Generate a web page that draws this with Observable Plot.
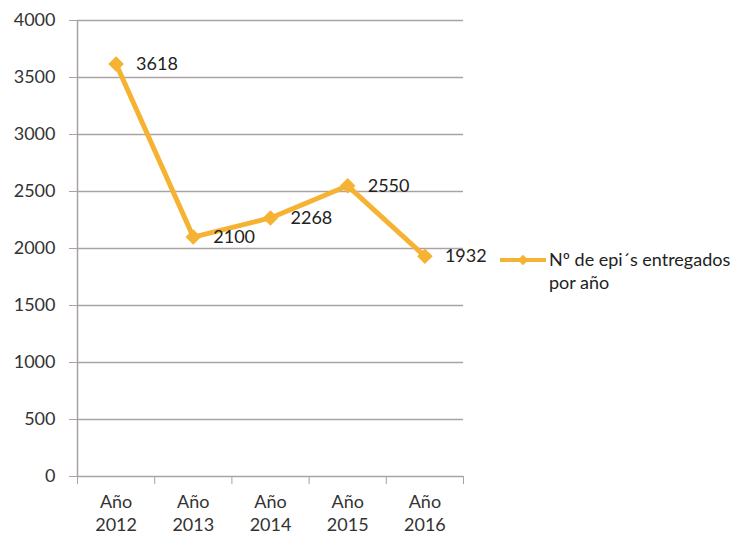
<!DOCTYPE html>
<html>
<head>
<meta charset="utf-8">
<script src="https://cdn.jsdelivr.net/npm/d3@7"></script>
<script src="https://cdn.jsdelivr.net/npm/@observablehq/plot@0.6"></script>
<style>
  html, body { margin: 0; padding: 0; background: #fff; }
  svg { display: block; }
</style>
</head>
<body>
<div id="chart"></div>
<script>
const categories = ["Año 2012", "Año 2013", "Año 2014", "Año 2015", "Año 2016"];
const values = [3618, 2100, 2268, 2550, 1932];
const yTicks = [0, 500, 1000, 1500, 2000, 2500, 3000, 3500, 4000];
const legendLines = ["Nº de epi´s entregados", "por año"];

const color = "#F6B232";
const font = "Lato, 'Open Sans', sans-serif";
const data = categories.map((c, i) => ({cat: c, pos: i + 0.5, value: values[i]}));
const boundaries = d3.range(categories.length + 1);

const chart = Plot.plot({
  width: 754,
  height: 538,
  marginLeft: 77,
  marginRight: 291,
  marginTop: 20,
  marginBottom: 62,
  style: {fontFamily: font, fontSize: "18px", color: "#333", background: "#fff"},
  x: {type: "linear", domain: [0, categories.length]},
  y: {domain: [0, 4000]},
  marks: [
    Plot.gridY(yTicks.filter(d => d > 0), {stroke: "#aaa2a2", strokeOpacity: 1, strokeWidth: 1.3}),
    Plot.axisY({ticks: yTicks, tickSize: 8, tickPadding: 14, tickFormat: d => String(d), stroke: "#aaa2a2", fill: "#333", fontSize: 18, label: null}),
    Plot.axisX({ticks: boundaries, tickSize: 8, tickFormat: () => "", stroke: "#aaa2a2", label: null}),
    Plot.axisX({ticks: data.map(d => d.pos), tickSize: 0, tickPadding: 16, lineHeight: 1.25,
      tickFormat: (d) => categories[Math.floor(d)].replace(" ", "\n"), fill: "#333", fontSize: 18, label: null}),
    Plot.ruleX([0], {stroke: "#aaa2a2", strokeWidth: 1.5}),
    Plot.ruleY([0], {stroke: "#aaa2a2", strokeWidth: 1.5}),
    Plot.line(data, {x: "pos", y: "value", stroke: color, strokeWidth: 5}),
    Plot.dot(data, {x: "pos", y: "value", symbol: "diamond2", r: 7, fill: color}),
    Plot.text(data, {x: "pos", y: "value", text: d => String(d.value), dx: 20, textAnchor: "start", fill: "#222", fontSize: 18})
  ]
});

// Legend
const svg = d3.select(chart);
const lg = svg.append("g").attr("font-family", font).attr("font-size", 18).attr("fill", "#222").attr("text-anchor", "start");
lg.append("line").attr("x1", 500).attr("x2", 546).attr("y1", 260).attr("y2", 260)
  .attr("stroke", color).attr("stroke-width", 4);
lg.append("path").attr("d", d3.symbol(d3.symbolDiamond2, 70)()).attr("transform", "translate(523,260)").attr("fill", color);
const t = lg.append("text").attr("x", 549).attr("y", 260);
legendLines.forEach((p, i) => t.append("tspan").attr("x", 549).attr("y", 260 + i * 23).attr("dy", "0.35em").text(p));

document.getElementById("chart").appendChild(chart);
</script>
</body>
</html>
